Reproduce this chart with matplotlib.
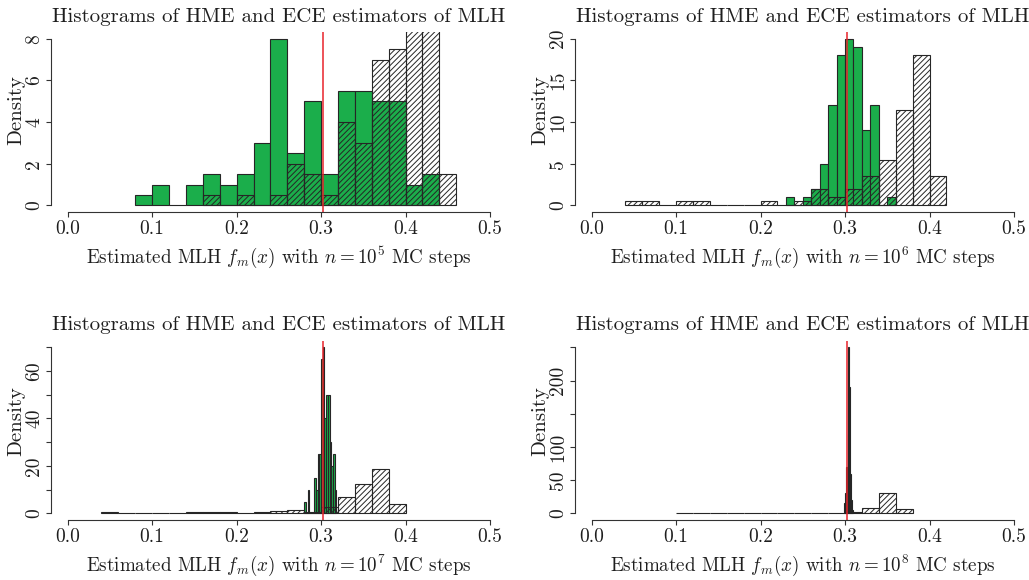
import numpy as np
import matplotlib.pyplot as plt

plt.rcParams['font.family'] = 'cmr10'
plt.rcParams['mathtext.fontset'] = 'cm'
plt.rcParams['axes.formatter.use_mathtext'] = True
plt.rcParams['hatch.linewidth'] = 0.7

# HME (green) and ECE (hatched) histogram densities, per panel
hme1_start, hme1_w = 0.08, 0.02
hme1 = [0.5, 1.0, 0, 1.0, 1.5, 1.0, 1.5, 3.0, 8.0, 2.5, 5.0, 1.5, 5.5, 5.5, 5.0, 5.0, 1.0, 1.5]
ece1_start, ece1_w = 0.16, 0.02
ece1 = [0.5, 0, 0.5, 0, 0.5, 2.0, 1.5, 0.5, 4.0, 3.0, 7.0, 7.5, 11.0, 10.5, 1.5]

hme2_start, hme2_w = 0.23, 0.01
hme2 = [1, 0, 1, 2, 5, 12, 18, 20, 19, 9, 12, 0, 1]
ece2_start, ece2_w = 0.04, 0.02
ece2 = [0.5, 0.5, 0, 0.5, 0.5, 0, 0, 0, 0.5, 0, 0.5, 2.0, 1.0, 2.0, 3.5, 5.5, 11.5, 18.0, 3.5]

hme3_start, hme3_w = 0.280, 0.002
hme3 = [5, 0, 10, 0, 0, 0, 15, 10, 25, 25, 65, 70, 40, 50, 50, 30, 20, 25, 10]
ece3_start, ece3_w = 0.04, 0.02
ece3 = [0.5, 0, 0, 0, 0, 0.5, 0.5, 0.5, 0, 0.5, 1.0, 1.5, 0.5, 2.5, 7.0, 12.5, 18.5, 4.0]

hme4_start, hme4_w = 0.299, 0.001
hme4 = [15, 30, 70, 70, 120, 250, 190, 60, 20, 5]
ece4_start, ece4_w = 0.10, 0.02
ece4 = [0.5, 0, 0, 0, 0.5, 0, 0, 0.5, 1.0, 1.0, 2.5, 7.5, 30.0, 6.0]

mlh = 0.3026
steps = [5, 6, 7, 8]
ymaxs = [8, 20, 70, 250]
yticks = [[0, 2, 4, 6, 8], [0, 5, 10, 15, 20],
          list(range(0, 71, 10)), list(range(0, 251, 50))]
ylabels = [['0', '2', '4', '6', '8'], ['0', '5', '10', '15', '20'],
           ['0', '', '20', '', '40', '', '60', ''],
           ['0', '50', '100', '', '200', '']]
xticks = [0.0, 0.1, 0.2, 0.3, 0.4, 0.5]

hmes = [(hme1_start, hme1_w, hme1), (hme2_start, hme2_w, hme2),
        (hme3_start, hme3_w, hme3), (hme4_start, hme4_w, hme4)]
eces = [(ece1_start, ece1_w, ece1), (ece2_start, ece2_w, ece2),
        (ece3_start, ece3_w, ece3), (ece4_start, ece4_w, ece4)]

W, H = 1029, 580
boxes = [(50.8, 32, 506.9, 212), (574.6, 32, 1030.9, 212),
         (50.8, 340.7, 506.9, 520), (574.6, 340.7, 1030.9, 520)]
dens_y = [0.567, 0.567, 0.552, 0.552]

green = '#1bae4b'
edge = '#262626'
txt = '#1e1e1e'

fig = plt.figure(figsize=(W / 100, H / 100), dpi=100)
for i in range(4):
    l, t, r, b = boxes[i]
    ax = fig.add_axes([l / W, 1 - b / H, (r - l) / W, (b - t) / H])

    s, w, v = hmes[i]
    x = s + w * np.arange(len(v))
    ax.bar(x, v, width=w, align='edge', color=green, edgecolor=edge, linewidth=0.8)
    s, w, v = eces[i]
    x = s + w * np.arange(len(v))
    ax.bar(x, v, width=w, align='edge', fill=False, hatch='//////',
           edgecolor=edge, linewidth=0.8)
    ax.axvline(mlh, color='#e8232b', linewidth=1.1)

    ym = ymaxs[i]
    ax.set_xlim(-0.02, 0.52)
    ax.set_ylim(-0.04 * ym, 1.04 * ym)
    for sp in ['top', 'right']:
        ax.spines[sp].set_visible(False)
    ax.spines['bottom'].set_bounds(0, 0.5)
    ax.spines['left'].set_bounds(0, ym)
    for sp in ['bottom', 'left']:
        ax.spines[sp].set_color('#333333')
        ax.spines[sp].set_linewidth(0.8)

    ax.set_xticks(xticks, ['%.1f' % xt for xt in xticks])
    ax.set_yticks(yticks[i], ylabels[i])
    for lbl in ax.get_yticklabels():
        lbl.set_rotation(90)
        lbl.set_va('center')
    ax.tick_params(direction='out', length=3.6, width=0.8, color='#333333',
                   labelsize=14, labelcolor=txt, pad=2)

    ax.set_title('Histograms of HME and ECE estimators of MLH', fontsize=15,
                 color=txt, pad=7.5)
    ax.set_xlabel('Estimated MLH $f_m(x)$ with $n = 10^{%d}$ MC steps' % steps[i],
                  fontsize=13.7, color=txt, labelpad=5)
    ax.set_ylabel('Density', fontsize=15, color=txt)
    ax.yaxis.set_label_coords(-0.056, dens_y[i])

fig.savefig('out.png', dpi=100)
